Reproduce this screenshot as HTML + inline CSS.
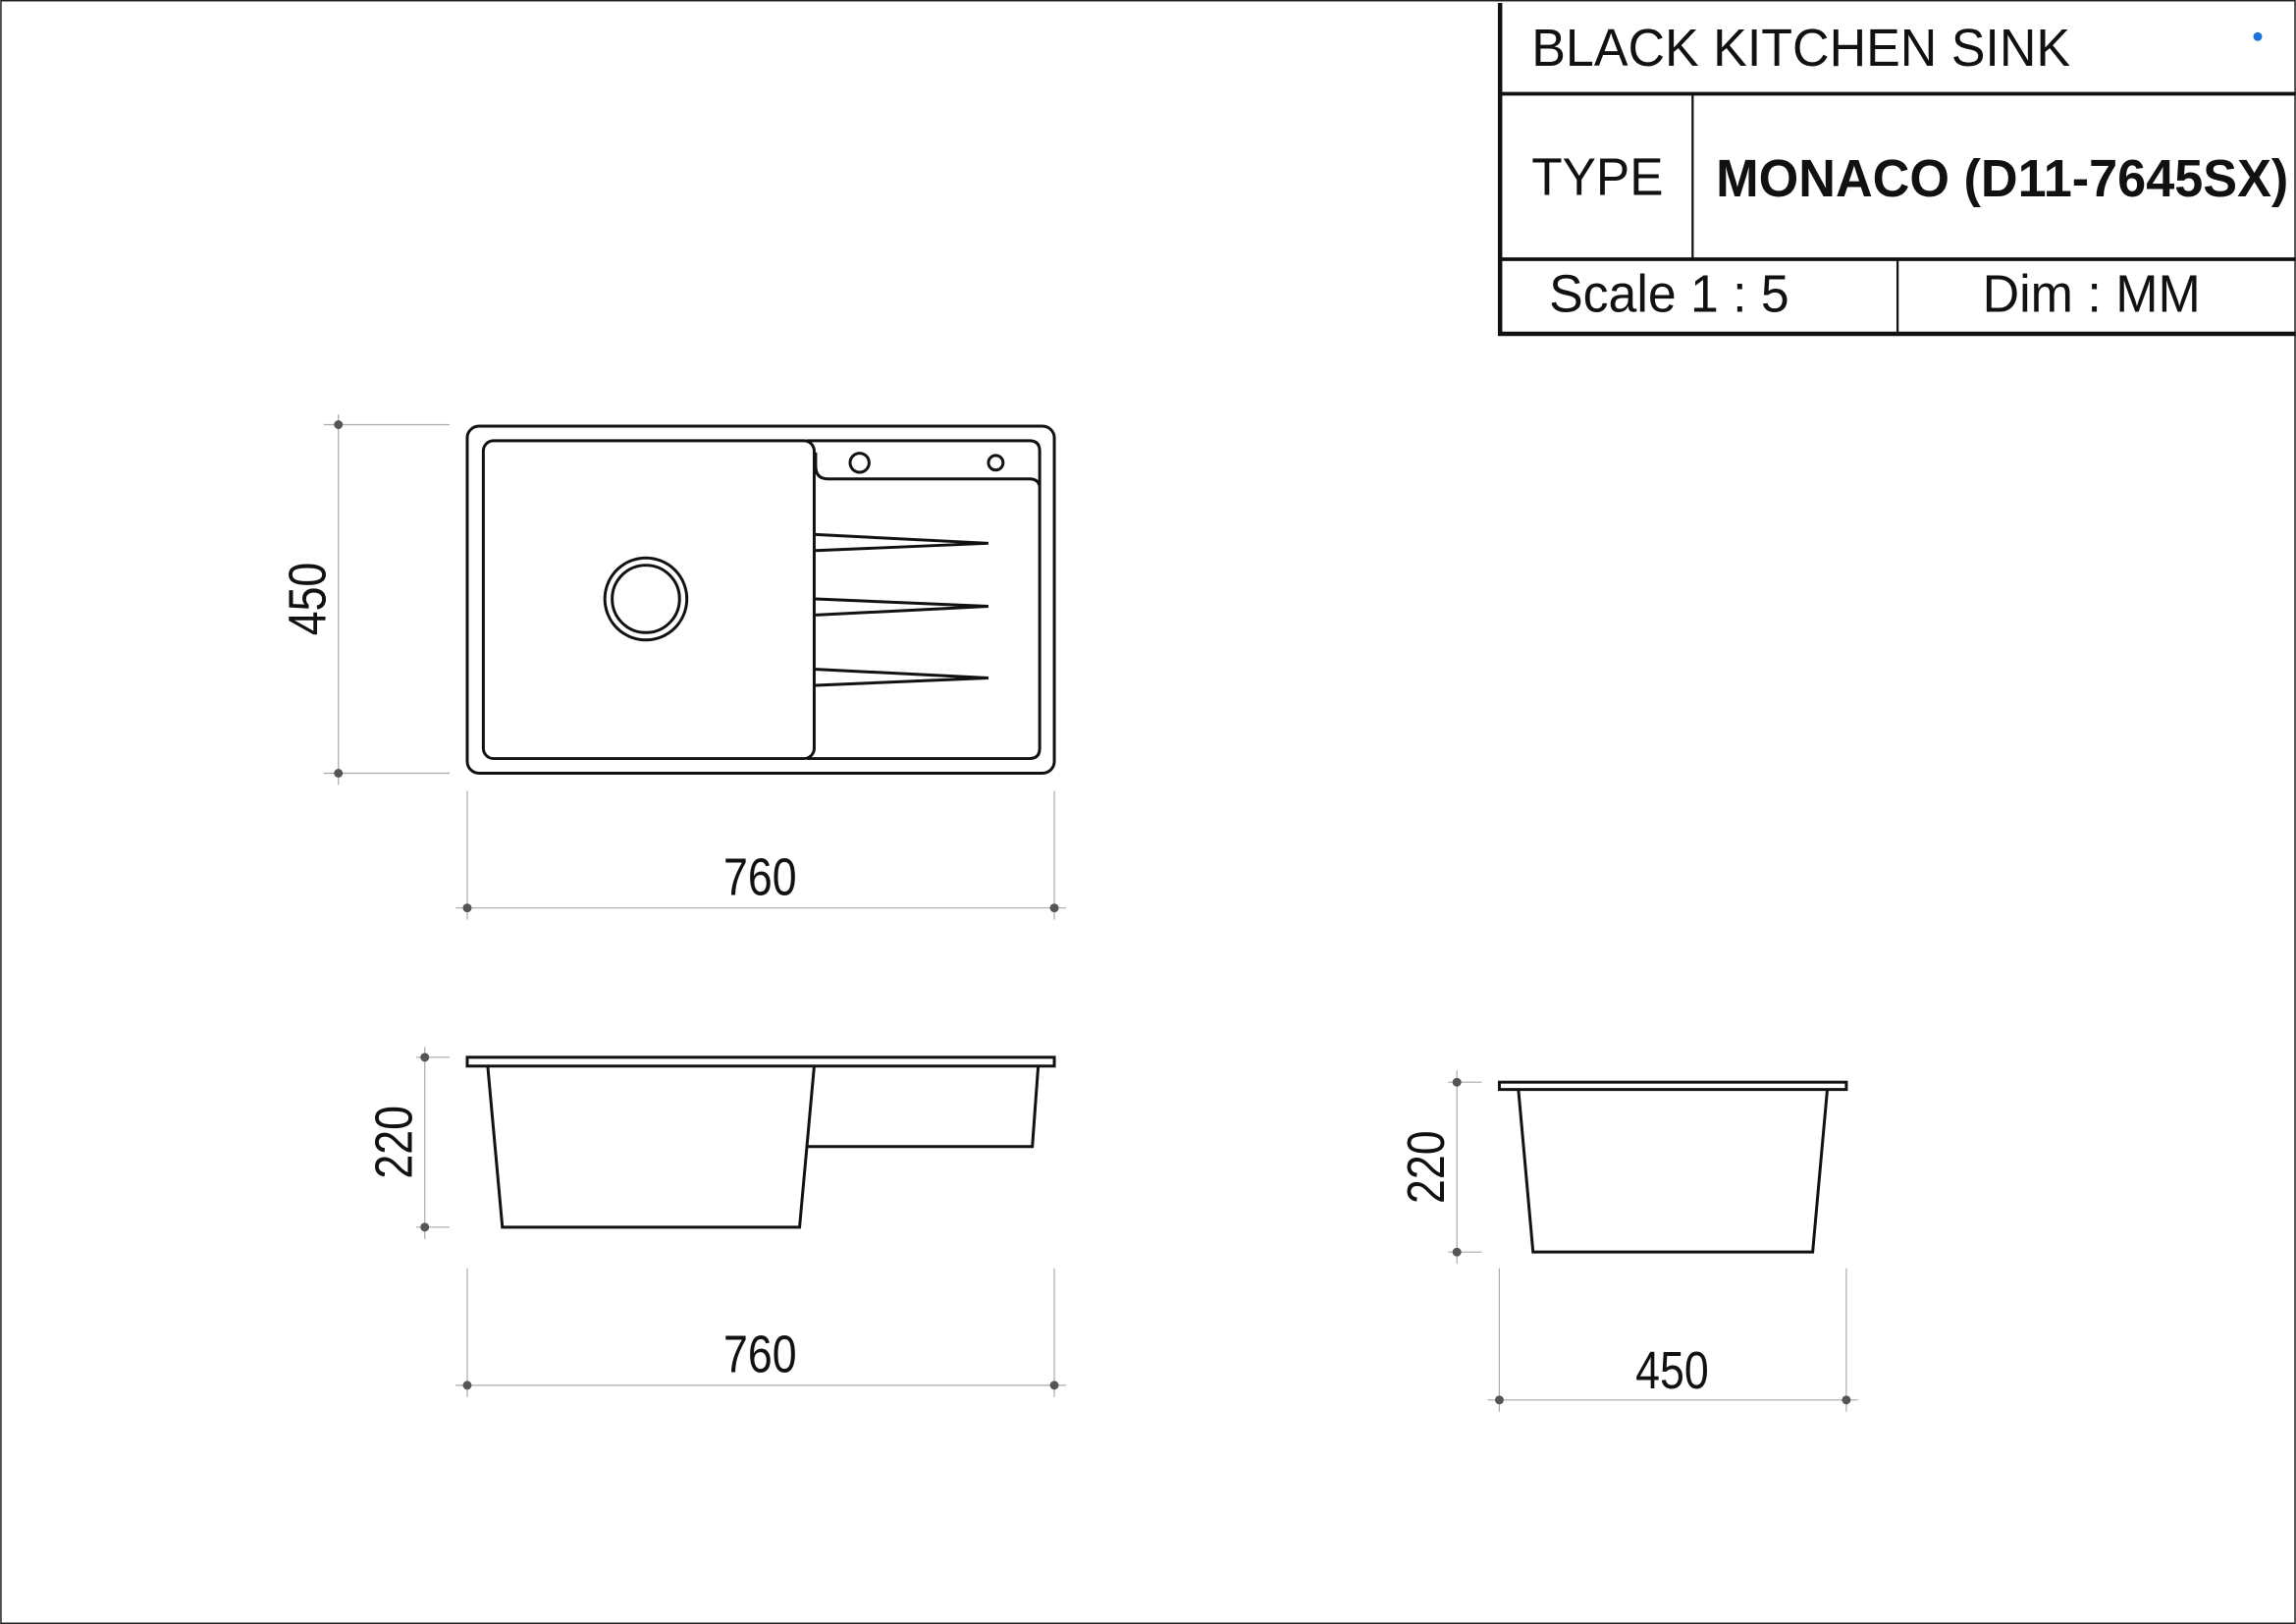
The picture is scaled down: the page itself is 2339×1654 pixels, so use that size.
<!DOCTYPE html>
<html><head><meta charset="utf-8"><style>
html,body{margin:0;padding:0;background:#fff;}
svg{display:block;}
text{font-family:"Liberation Sans",sans-serif;fill:#111;}
</style></head><body>
<svg width="2339" height="1654" viewBox="0 0 1568 1109" xmlns="http://www.w3.org/2000/svg">
<rect x="0.5" y="0.5" width="1567" height="1108" fill="#fff" stroke="#222" stroke-width="1"/>

<!-- title block -->
<g stroke="#111" fill="none">
<path d="M1024.5 2 V228 H1568" stroke-width="3"/>
<path d="M1024 64 H1568 M1024 177 H1568" stroke-width="2.5"/>
<path d="M1156 64 V177 M1296 177 V228" stroke-width="1.5"/>
</g>
<circle cx="1542" cy="25" r="3" fill="#1a73d9"/>
<text x="1046" y="45" font-size="36" textLength="368" lengthAdjust="spacingAndGlyphs">BLACK KITCHEN SINK</text>
<text x="1046" y="133" font-size="36" textLength="90" lengthAdjust="spacingAndGlyphs">TYPE</text>
<text x="1172" y="134" font-size="36" font-weight="bold" textLength="391" lengthAdjust="spacingAndGlyphs">MONACO (D11-7645SX)</text>
<text x="1058" y="213" font-size="36" textLength="164" lengthAdjust="spacingAndGlyphs">Scale 1 : 5</text>
<text x="1354" y="213" font-size="36" textLength="149" lengthAdjust="spacingAndGlyphs">Dim : MM</text>

<!-- dimension lines (light) -->
<g stroke="#aaa" stroke-width="0.8" fill="none">
<path d="M231 283 V536 M221 290 H307 M221 528 H307"/>
<path d="M311 620 H728 M319 540 V628 M720 540 V628"/>
<path d="M290 715 V846 M284 722 H307 M284 838 H307"/>
<path d="M311 946 H728 M319 866 V954 M720 866 V954"/>
<path d="M995 731 V863 M989 739 H1012 M989 855 H1012"/>
<path d="M1016 956 H1269 M1024 866 V964 M1261 866 V964"/>
</g>
<g fill="#555">
<circle cx="231" cy="290" r="3"/><circle cx="231" cy="528" r="3"/>
<circle cx="319" cy="620" r="3"/><circle cx="720" cy="620" r="3"/>
<circle cx="290" cy="722" r="3"/><circle cx="290" cy="838" r="3"/>
<circle cx="319" cy="946" r="3"/><circle cx="720" cy="946" r="3"/>
<circle cx="995" cy="739" r="3"/><circle cx="995" cy="855" r="3"/>
<circle cx="1024" cy="956" r="3"/><circle cx="1261" cy="956" r="3"/>
</g>
<g font-size="36">
<text x="519" y="611" text-anchor="middle" textLength="50" lengthAdjust="spacingAndGlyphs">760</text>
<text x="519" y="937" text-anchor="middle" textLength="50" lengthAdjust="spacingAndGlyphs">760</text>
<text x="1142" y="948" text-anchor="middle" textLength="50" lengthAdjust="spacingAndGlyphs">450</text>
<text transform="translate(222 409) rotate(-90)" text-anchor="middle" textLength="50" lengthAdjust="spacingAndGlyphs">450</text>
<text transform="translate(281 780) rotate(-90)" text-anchor="middle" textLength="50" lengthAdjust="spacingAndGlyphs">220</text>
<text transform="translate(986 797) rotate(-90)" text-anchor="middle" textLength="50" lengthAdjust="spacingAndGlyphs">220</text>
</g>

<!-- top view -->
<g stroke="#111" fill="none" stroke-width="2">
<rect x="319" y="291" width="401" height="237" rx="8"/>
<rect x="330" y="301" width="226" height="217" rx="7"/>
<path d="M551 301 H703 Q710 301 710 308 V332 Q709 327 703 327 H565 Q557 327 557 318 V309"/>
<path d="M710 332 V511 Q710 518 703 518 H551"/>
<circle cx="587" cy="316" r="6.5"/>
<circle cx="680" cy="316" r="5"/>
<circle cx="441" cy="409" r="28"/>
<circle cx="441" cy="409" r="23"/>
<path d="M557 365 L675 371 M557 376 L675 371 M557 409 L675 414 M557 420 L675 414 M557 457 L675 463 M557 468 L675 463"/>
</g>

<!-- front view -->
<g stroke="#111" fill="none" stroke-width="2">
<rect x="319" y="722" width="401" height="6"/>
<path d="M333 728 L343 838 H546 L556 728"/>
<path d="M552 783 H705 L709 728"/>
</g>

<!-- side view -->
<g stroke="#111" fill="none" stroke-width="2">
<rect x="1024" y="739" width="237" height="5"/>
<path d="M1037 744 L1047 855 H1238 L1248 744"/>
</g>
</svg>
</body></html>
